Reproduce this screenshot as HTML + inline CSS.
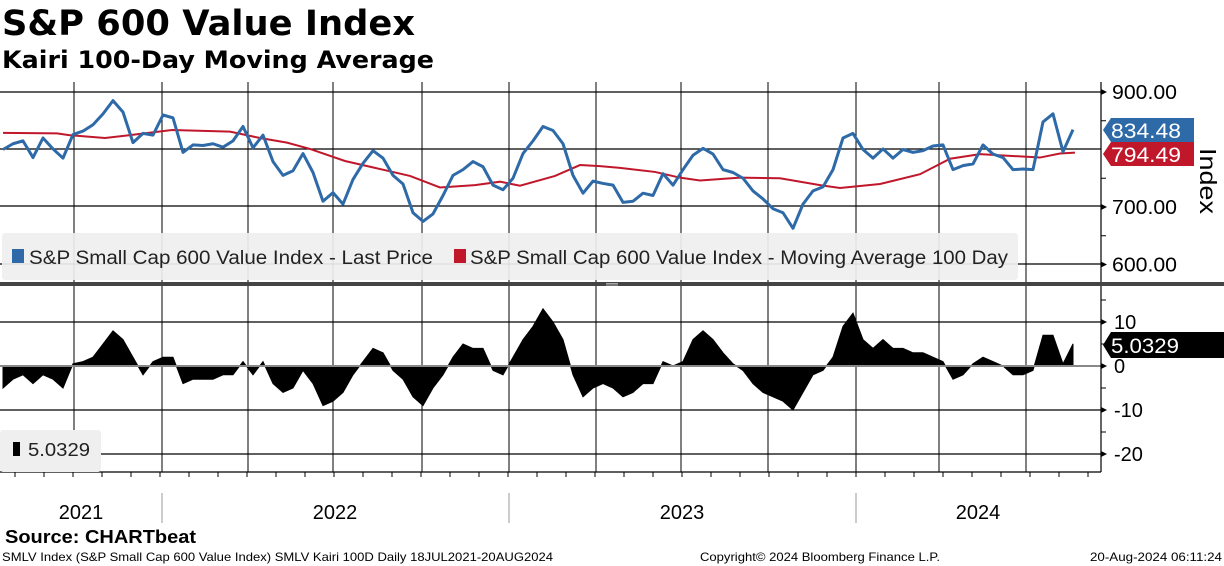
<!DOCTYPE html>
<html><head><meta charset="utf-8"><style>
body{margin:0;background:#fff;width:1224px;height:566px;overflow:hidden;font-family:"Liberation Sans",sans-serif}
svg{position:absolute;left:0;top:0}
</style></head><body>
<svg id="c" width="1224" height="566"></svg>
<script>
const priceStart = 3, priceStep = 10;
const priceVals = [800,810,815,786,820,801,785,826,832,843,862,885,865,812,828,825,860,855,795,808,807,810,804,815,840,803,825,779,755,763,793,760,710,725,705,748,776,798,785,755,740,690,675,688,720,755,765,779,770,738,730,750,793,815,840,833,810,755,724,745,741,738,708,710,724,720,758,738,765,790,802,792,765,760,750,728,714,697,690,663,705,728,735,765,820,828,800,785,801,785,800,795,798,806,808,765,772,775,808,792,786,765,766,765,848,862,796,834.48];
const maIdx = [0,5.4,6.6,10.2,12.7,16.9,22.7,25.7,28.4,30.7,34.2,37.2,40.7,43.7,47.2,49.7,51.7,55.2,57.7,59.7,61.7,65.2,67.7,69.7,73.7,77.7,81.7,83.7,87.7,91.7,94.7,97.7,100.7,103.7,105.7,107.2];
const maVals = [829,828,825,820,825,834,831,820,812,801,780,768,754,734,738,744,737,754,773,771,768,761,751,746,751,750,738,733,740,757,784,792,789,786,793,794.49];
const kairiVals = [-5,-3,-2,-4,-2,-3,-5,0.5,1,2,5,8,6,2,-2,1,2,2,-4,-3,-3,-3,-2,-2,1,-2,1,-4,-6,-5,-1,-4,-9,-8,-6,-2,1,4,3,-1,-3,-7,-9,-5,-2,2,5,4,4,-1,-2,2,6,9,13,10,6,-2,-7,-5,-4,-5,-7,-6,-4,-4,1,0,1,6,8,6,3,0.5,-1,-4,-6,-7,-8,-10,-6,-2,-1,2,9,12,6,4,6,4,4,3,3,2,1,-3,-2,0.5,2,1,0,-2,-2,-1,7,7,0.5,5.03];
const priceTicks = ["900.00","700.00","600.00"];
const priceTickVals = [900,700,600];
const kairiTicks = ["10","0","-10","-20"];
const kairiTickVals = [10,0,-10,-20];
const years = ["2021","2022","2023","2024"];

const NS="http://www.w3.org/2000/svg";
const svg=document.getElementById('c');
function el(t,a,p){const e=document.createElementNS(NS,t);for(const k in a)e.setAttribute(k,a[k]);(p||svg).appendChild(e);return e;}
function fit(e,w){e.setAttribute('textLength',w);e.setAttribute('lengthAdjust','spacingAndGlyphs');}
const xi=i=>priceStart+i*priceStep;
const yP=v=>92+(900-v)*0.575;
const yK=v=>366-v*4.4;

let t=el('text',{x:2,y:35,'font-size':35,'font-weight':'bold','font-family':'DejaVu Sans, sans-serif'});t.textContent='S&P 600 Value Index';fit(t,413);

t=el('text',{x:2,y:68,'font-size':24,'font-weight':'bold','font-family':'DejaVu Sans, sans-serif'});t.textContent='Kairi 100-Day Moving Average';fit(t,432);


const vgrid=[74,162,248,333,422,509,596,681,768,856,939,1026];
for(const v of [92,149,206,264]) el('line',{x1:0,x2:1101,y1:v,y2:v,stroke:'#000','stroke-width':1.2});
for(const x of vgrid) el('line',{x1:x,x2:x,y1:82,y2:282,stroke:'#000','stroke-width':1});
el('line',{x1:1101,x2:1101,y1:82,y2:282,stroke:'#000','stroke-width':1.2});
for(const v of [850,750,650]) el('line',{x1:1101,x2:1106,y1:yP(v),y2:yP(v),stroke:'#000'});
priceTickVals.forEach((v,i)=>{el('path',{d:`M1101 ${yP(v)-3}L1107 ${yP(v)}L1101 ${yP(v)+3}Z`,fill:'#000'});
 const tx=el('text',{x:1112,y:yP(v)+7,'font-size':20});tx.textContent=priceTicks[i];fit(tx,65);
 });
t=el('text',{x:0,y:0,'font-size':23,transform:'translate(1200,148) rotate(90)'});t.textContent='Index';fit(t,66);


let ma='';maIdx.forEach((v,i)=>{ma+=(i?'L':'M')+xi(v)+' '+yP(maVals[i]);});
let p=el('path',{d:ma,fill:'none',stroke:'#c0172b','stroke-width':2});

let pr='';priceVals.forEach((v,i)=>{pr+=(i?'L':'M')+xi(i)+' '+yP(v);});
p=el('path',{d:pr,fill:'none',stroke:'#2e6aa8','stroke-width':3,'stroke-linejoin':'round'});


let g=el('g',{});
el('rect',{x:2,y:233,width:1016,height:47,rx:3,fill:'#efefef','fill-opacity':0.92},g);
el('rect',{x:12,y:249,width:12,height:14,fill:'#2e6aa8'},g);
t=el('text',{x:29,y:264,'font-size':19,fill:'#222'},g);t.textContent='S&P Small Cap 600 Value Index - Last Price';fit(t,404);
el('rect',{x:454,y:249,width:12,height:14,fill:'#c0172b'},g);
t=el('text',{x:470,y:264,'font-size':19,fill:'#222'},g);t.textContent='S&P Small Cap 600 Value Index - Moving Average 100 Day';fit(t,538);

function tag(y,txt,fill,name){const gg=el('g',{});
 el('path',{d:`M1103 ${y}L1111 ${y-12}L1194 ${y-12}L1194 ${y+12}L1111 ${y+12}Z`,fill:fill},gg);
 const tt=el('text',{x:1111,y:y+8,'font-size':21,fill:'#fff'},gg);tt.textContent=txt;fit(tt,70);}
tag(130,'834.48','#2e6aa8','last-price-tag');
tag(154,'794.49','#c0172b','moving-average-tag');

el('rect',{x:0,y:282,width:1224,height:4,fill:'#444'});
el('line',{x1:606,x2:618,y1:283.5,y2:283.5,stroke:'#aaa'});el('line',{x1:606,x2:618,y1:285,y2:285,stroke:'#aaa'});

for(const v of [10,-10,-20]) el('line',{x1:0,x2:1101,y1:yK(v),y2:yK(v),stroke:'#000','stroke-width':1.2});
for(const x of vgrid) el('line',{x1:x,x2:x,y1:286,y2:472,stroke:'#000','stroke-width':1});
let kp='M'+xi(0)+' '+yK(0);kairiVals.forEach((v,i)=>{kp+='L'+xi(i)+' '+yK(v);});kp+='L'+xi(kairiVals.length-1)+' '+yK(0)+'Z';
p=el('path',{d:kp,fill:'#000',stroke:'#000','stroke-width':1});

el('line',{x1:0,x2:1101,y1:yK(0),y2:yK(0),stroke:'#888','stroke-width':2});
el('line',{x1:1101,x2:1101,y1:286,y2:472,stroke:'#000','stroke-width':1.2});
el('line',{x1:0,x2:1101,y1:472,y2:472,stroke:'#000','stroke-width':1.2});
for(const v of [15,5,-5,-15]) el('line',{x1:1101,x2:1106,y1:yK(v),y2:yK(v),stroke:'#000'});
kairiTickVals.forEach((v,i)=>{el('path',{d:`M1101 ${yK(v)-3}L1107 ${yK(v)}L1101 ${yK(v)+3}Z`,fill:'#000'});
 const tx=el('text',{x:1114,y:yK(v)+7,'font-size':20});tx.textContent=kairiTicks[i];
 });
g=el('g',{});
el('path',{d:'M1103 345L1111 332L1224 332L1224 358L1111 358Z',fill:'#000'},g);
t=el('text',{x:1111,y:353,'font-size':21,fill:'#fff'},g);t.textContent='5.0329';fit(t,68);
g=el('g',{});
el('rect',{x:0,y:430,width:101,height:42,rx:3,fill:'#efefef'},g);
el('rect',{x:13,y:442,width:7,height:14,fill:'#000'},g);
t=el('text',{x:28,y:456,'font-size':18,fill:'#222'},g);t.textContent='5.0329';fit(t,62);

for(let x=15;x<1101;x+=29) el('line',{x1:x,x2:x,y1:472,y2:477,stroke:'#000'});
for(const x of [162,509,856]) el('line',{x1:x,x2:x,y1:493,y2:523,stroke:'#999'});
[81,335,682,978].forEach((x,i)=>{const tx=el('text',{x:x,y:519,'font-size':20,'text-anchor':'middle'});tx.textContent=years[i];
 });

t=el('text',{x:5,y:543,'font-size':18,'font-weight':'bold'});t.textContent='Source: CHARTbeat';fit(t,191);

t=el('text',{x:2,y:561,'font-size':12});t.textContent='SMLV Index (S&P Small Cap 600 Value Index) SMLV Kairi 100D  Daily 18JUL2021-20AUG2024';fit(t,551);

t=el('text',{x:700,y:561,'font-size':12});t.textContent='Copyright© 2024 Bloomberg Finance L.P.';fit(t,240);

t=el('text',{x:1090,y:561,'font-size':12});t.textContent='20-Aug-2024 06:11:24';fit(t,132);

</script>
</body></html>
